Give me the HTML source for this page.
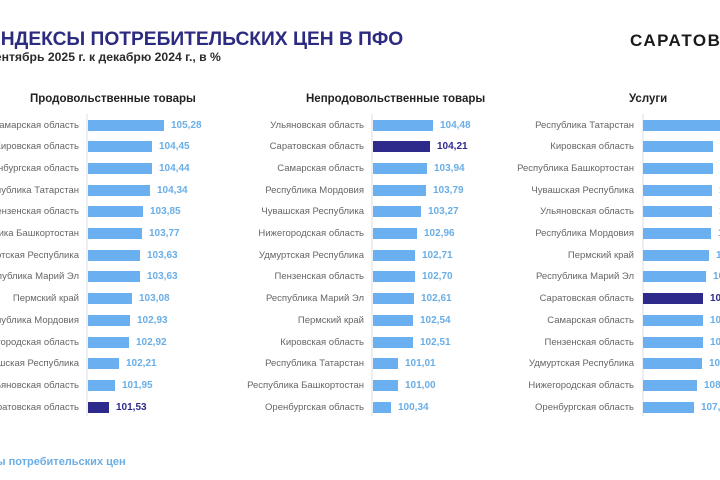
<!DOCTYPE html>
<html><head><meta charset="utf-8"><style>
body{margin:0;width:720px;height:480px;overflow:hidden;background:#fff;position:relative;font-family:"Liberation Sans",sans-serif}
.a{position:absolute;white-space:nowrap}
.t{left:-13px;top:29px;font-size:19.2px;font-weight:bold;color:#2d2b80}
.s{left:-14px;top:50px;font-size:12.2px;font-weight:bold;color:#2b2b2b}
.logo{left:630px;top:31px;font-size:17px;font-weight:bold;color:#1a1a1a;letter-spacing:1.5px}
.h{top:93px;font-size:11.5px;font-weight:bold;color:#222}
.ax{position:absolute;top:114px;height:302px;width:2px;background:#eceef2}
.r{position:absolute;display:flex;align-items:center;height:13px;white-space:nowrap}
.r span{width:200px;text-align:right;font-size:9.5px;color:#666;margin-right:9px}
.r i{display:block;height:11px;background:#6aaff0}
.r b{font-size:10px;color:#6aaee6;margin-left:7px}
.r.d i{background:#2e2a8c}.r.d b{color:#2e2a8c}
.f{left:-43px;top:456px;font-size:11px;font-weight:bold;color:#6aaee6}
</style></head><body>
<div class="a t">ИНДЕКСЫ ПОТРЕБИТЕЛЬСКИХ ЦЕН В ПФО</div>
<div class="a s">Сентябрь 2025 г. к декабрю 2024 г., в %</div>
<div class="a logo">САРАТОВСКИЙ</div>
<div class="a h" style="left:30px">Продовольственные товары</div>
<div class="a h" style="left:306px">Непродовольственные товары</div>
<div class="a h" style="left:629px">Услуги</div>
<div class="ax" style="left:86px"></div><div class="ax" style="left:371px"></div><div class="ax" style="left:642px"></div>

<div class="r" style="left:-121px;top:119px"><span>Самарская область</span><i style="width:76px"></i><b>105,28</b></div>
<div class="r" style="left:-121px;top:140px"><span>Кировская область</span><i style="width:64px"></i><b>104,45</b></div>
<div class="r" style="left:-121px;top:162px"><span>Оренбургская область</span><i style="width:64px"></i><b>104,44</b></div>
<div class="r" style="left:-121px;top:184px"><span>Республика Татарстан</span><i style="width:62px"></i><b>104,34</b></div>
<div class="r" style="left:-121px;top:205px"><span>Пензенская область</span><i style="width:55px"></i><b>103,85</b></div>
<div class="r" style="left:-121px;top:227px"><span>Республика Башкортостан</span><i style="width:54px"></i><b>103,77</b></div>
<div class="r" style="left:-121px;top:249px"><span>Удмуртская Республика</span><i style="width:52px"></i><b>103,63</b></div>
<div class="r" style="left:-121px;top:270px"><span>Республика Марий Эл</span><i style="width:52px"></i><b>103,63</b></div>
<div class="r" style="left:-121px;top:292px"><span>Пермский край</span><i style="width:44px"></i><b>103,08</b></div>
<div class="r" style="left:-121px;top:314px"><span>Республика Мордовия</span><i style="width:42px"></i><b>102,93</b></div>
<div class="r" style="left:-121px;top:336px"><span>Нижегородская область</span><i style="width:41px"></i><b>102,92</b></div>
<div class="r" style="left:-121px;top:357px"><span>Чувашская Республика</span><i style="width:31px"></i><b>102,21</b></div>
<div class="r" style="left:-121px;top:379px"><span>Ульяновская область</span><i style="width:27px"></i><b>101,95</b></div>
<div class="r d" style="left:-121px;top:401px"><span>Саратовская область</span><i style="width:21px"></i><b>101,53</b></div>

<div class="r" style="left:164px;top:119px"><span>Ульяновская область</span><i style="width:60px"></i><b>104,48</b></div>
<div class="r d" style="left:164px;top:140px"><span>Саратовская область</span><i style="width:57px"></i><b>104,21</b></div>
<div class="r" style="left:164px;top:162px"><span>Самарская область</span><i style="width:54px"></i><b>103,94</b></div>
<div class="r" style="left:164px;top:184px"><span>Республика Мордовия</span><i style="width:53px"></i><b>103,79</b></div>
<div class="r" style="left:164px;top:205px"><span>Чувашская Республика</span><i style="width:48px"></i><b>103,27</b></div>
<div class="r" style="left:164px;top:227px"><span>Нижегородская область</span><i style="width:44px"></i><b>102,96</b></div>
<div class="r" style="left:164px;top:249px"><span>Удмуртская Республика</span><i style="width:42px"></i><b>102,71</b></div>
<div class="r" style="left:164px;top:270px"><span>Пензенская область</span><i style="width:42px"></i><b>102,70</b></div>
<div class="r" style="left:164px;top:292px"><span>Республика Марий Эл</span><i style="width:41px"></i><b>102,61</b></div>
<div class="r" style="left:164px;top:314px"><span>Пермский край</span><i style="width:40px"></i><b>102,54</b></div>
<div class="r" style="left:164px;top:336px"><span>Кировская область</span><i style="width:40px"></i><b>102,51</b></div>
<div class="r" style="left:164px;top:357px"><span>Республика Татарстан</span><i style="width:25px"></i><b>101,01</b></div>
<div class="r" style="left:164px;top:379px"><span>Республика Башкортостан</span><i style="width:25px"></i><b>101,00</b></div>
<div class="r" style="left:164px;top:401px"><span>Оренбургская область</span><i style="width:18px"></i><b>100,34</b></div>

<div class="r" style="left:434px;top:119px"><span>Республика Татарстан</span><i style="width:80px"></i><b>110,02</b></div>
<div class="r" style="left:434px;top:140px"><span>Кировская область</span><i style="width:70px"></i><b>109,73</b></div>
<div class="r" style="left:434px;top:162px"><span>Республика Башкортостан</span><i style="width:70px"></i><b>109,70</b></div>
<div class="r" style="left:434px;top:184px"><span>Чувашская Республика</span><i style="width:69px"></i><b>109,63</b></div>
<div class="r" style="left:434px;top:205px"><span>Ульяновская область</span><i style="width:69px"></i><b>109,58</b></div>
<div class="r" style="left:434px;top:227px"><span>Республика Мордовия</span><i style="width:68px"></i><b>109,55</b></div>
<div class="r" style="left:434px;top:249px"><span>Пермский край</span><i style="width:66px"></i><b>109,33</b></div>
<div class="r" style="left:434px;top:270px"><span>Республика Марий Эл</span><i style="width:63px"></i><b>109,10</b></div>
<div class="r d" style="left:434px;top:292px"><span>Саратовская область</span><i style="width:60px"></i><b>109,00</b></div>
<div class="r" style="left:434px;top:314px"><span>Самарская область</span><i style="width:60px"></i><b>108,98</b></div>
<div class="r" style="left:434px;top:336px"><span>Пензенская область</span><i style="width:60px"></i><b>108,97</b></div>
<div class="r" style="left:434px;top:357px"><span>Удмуртская Республика</span><i style="width:59px"></i><b>108,88</b></div>
<div class="r" style="left:434px;top:379px"><span>Нижегородская область</span><i style="width:54px"></i><b>108,30</b></div>
<div class="r" style="left:434px;top:401px"><span>Оренбургская область</span><i style="width:51px"></i><b>107,65</b></div>

<div class="a f">Индексы потребительских цен</div>
</body></html>
